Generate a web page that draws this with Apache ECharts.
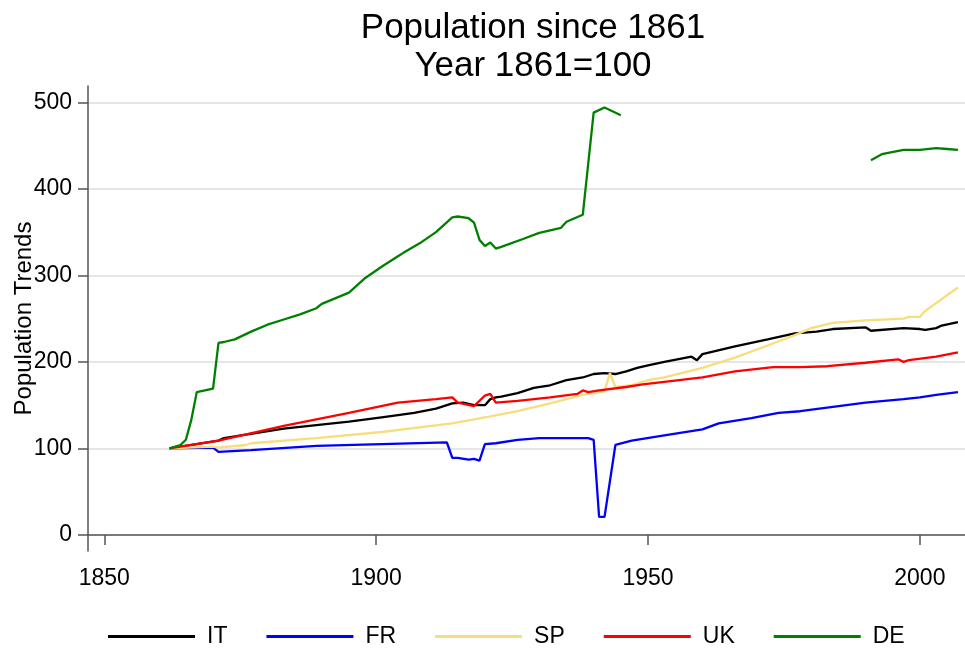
<!DOCTYPE html>
<html>
<head>
<meta charset="utf-8">
<script src="https://cdn.jsdelivr.net/npm/echarts@6/dist/echarts.min.js"></script>
<style>
html,body{margin:0;padding:0;background:#fff;}
#chart{width:965px;height:651px;}
</style>
</head>
<body>
<div id="chart"></div>
<script>
// ---- data ----
const titleLines = ["Population since 1861", "Year 1861=100"];
const yAxisTitle = "Population Trends";
const xTickValues = [1850, 1900, 1950, 2000];
const yTickValues = [0, 100, 200, 300, 400, 500];

const itYears = [1862,1871,1872,1883,1895,1901,1907,1911,1914,1916,1918,1920,1921,1922,1923,1926,1929,1932,1935,1938,1940,1942,1944,1946,1948,1950,1953,1958,1959,1960,1966,1972,1977,1981,1984,1990,1991,1997,2000,2001,2003,2004,2007];
const itVals  = [100,109,112,123,131,136,141,146,152,153,150,150,157,159,160,164,170,173,179,182,186,187,186,189,193,196,200,206,202,209,218,226,233,235,238,240,236,239,238,237,239,242,246];

const frYears = [1862,1870,1871,1877,1889,1901,1913,1914,1915,1917,1918,1919,1920,1922,1926,1930,1939,1940,1941,1942,1944,1947,1953,1960,1963,1969,1974,1978,1984,1990,1997,2000,2003,2007];
const frVals  = [100,101,96,98,103,105,107,89,89,87,88,86,105,106,110,112,112,110,21,21,104,109,115,122,129,135,141,143,148,153,157,159,162,165];

const spYears = [1862,1870,1871,1876,1877,1889,1901,1914,1921,1926,1932,1938,1942,1943,1944,1947,1950,1953,1960,1966,1972,1977,1980,1984,1990,1997,1998,2000,2001,2007];
const spVals  = [100,102,101,104,106,112,119,129,137,143,152,162,166,187,171,173,179,182,193,205,219,231,239,245,248,250,252,252,259,286];

const ukYears = [1862,1871,1883,1895,1904,1911,1914,1915,1918,1920,1921,1922,1926,1932,1937,1938,1939,1941,1946,1949,1953,1960,1966,1973,1978,1983,1990,1996,1997,1998,2003,2007];
const ukVals  = [100,109,126,141,153,157,159,153,149,161,163,153,155,159,163,167,165,167,171,174,177,182,189,194,194,195,199,203,200,202,206,211];

const deYears = [1862,1864,1865,1866,1867,1870,1871,1872,1874,1877,1880,1883,1886,1889,1890,1895,1898,1901,1904,1905,1908,1911,1914,1915,1917,1918,1919,1920,1921,1922,1923,1927,1930,1934,1935,1938,1940,1942,1945,1968,1991,1993,1997,2000,2003,2005,2007];
const deVals  = [100,104,110,133,165,169,222,223,226,235,243,249,255,262,267,280,297,310,322,326,337,350,367,368,366,361,341,334,338,331,333,342,349,355,362,370,488,494,485,null,433,440,445,445,447,446,445];

const seriesNames = ["IT", "FR", "SP", "UK", "DE"];
const seriesColors = ["#000000", "#0000ff", "#f7dd7c", "#ff0000", "#008000"];

// ---- build chart ----
function pairs(years, vals) {
  return years.map((y, i) => [y, vals[i] === null ? '-' : vals[i]]);
}
const allData = [
  pairs(itYears, itVals),
  pairs(frYears, frVals),
  pairs(spYears, spVals),
  pairs(ukYears, ukVals),
  pairs(deYears, deVals)
];

const FONT = "'Liberation Sans', Arial, Helvetica, sans-serif";
const chart = echarts.init(document.getElementById('chart'), null, {renderer: 'canvas'});

chart.setOption({
  animation: false,
  backgroundColor: '#ffffff',
  title: {
    text: titleLines.join('\n'),
    left: 528,
    top: 4,
    textAlign: 'center',
    textStyle: {
      fontFamily: FONT,
      fontSize: 35,
      fontWeight: 'normal',
      color: '#000',
      lineHeight: 38
    }
  },
  legend: {
    left: 108,
    top: 625,
    padding: 0,
    icon: 'rect',
    itemWidth: 87,
    itemHeight: 3,
    itemGap: 39,
    data: seriesNames,
    textStyle: {
      fontFamily: FONT,
      fontSize: 23,
      color: '#000',
      padding: [0, 0, 0, 7]
    }
  },
  grid: {
    left: 88,
    top: 86,
    right: 0,
    bottom: 100,
    containLabel: false,
    outerBoundsMode: 'none'
  },
  xAxis: {
    type: 'value',
    min: 1847.0,
    max: 2008.3,
    axisLine: {show: true, lineStyle: {color: '#555', width: 1.5}},
    axisTick: {show: true, length: 10, customValues: xTickValues, lineStyle: {color: '#555', width: 1.5}},
    axisLabel: {
      customValues: xTickValues,
      formatter: (v) => String(v),
      margin: 16,
      fontFamily: FONT,
      fontSize: 23,
      color: '#000'
    },
    splitLine: {show: false}
  },
  yAxis: {
    type: 'value',
    min: -18.5,
    max: 518.8,
    name: yAxisTitle,
    nameLocation: 'middle',
    nameGap: 52,
    nameMoveOverlap: false,
    nameTextStyle: {fontFamily: FONT, fontSize: 24, color: '#000'},
    axisLine: {show: true, lineStyle: {color: '#555', width: 1.5}},
    axisTick: {show: true, length: 10, customValues: yTickValues, lineStyle: {color: '#555', width: 1.5}},
    axisLabel: {
      customValues: yTickValues,
      formatter: (v) => String(v),
      margin: 16,
      fontFamily: FONT,
      fontSize: 23,
      color: '#000'
    },
    splitLine: {show: true, lineStyle: {color: '#e6e6e6', width: 2}}
  },
  series: seriesNames.map((name, i) => ({
    name: name,
    type: 'line',
    data: allData[i],
    showSymbol: false,
    symbol: 'none',
    connectNulls: false,
    color: seriesColors[i],
    lineStyle: {color: seriesColors[i], width: 2.3},
    z: 2 + i
  }))
});
</script>
</body>
</html>
